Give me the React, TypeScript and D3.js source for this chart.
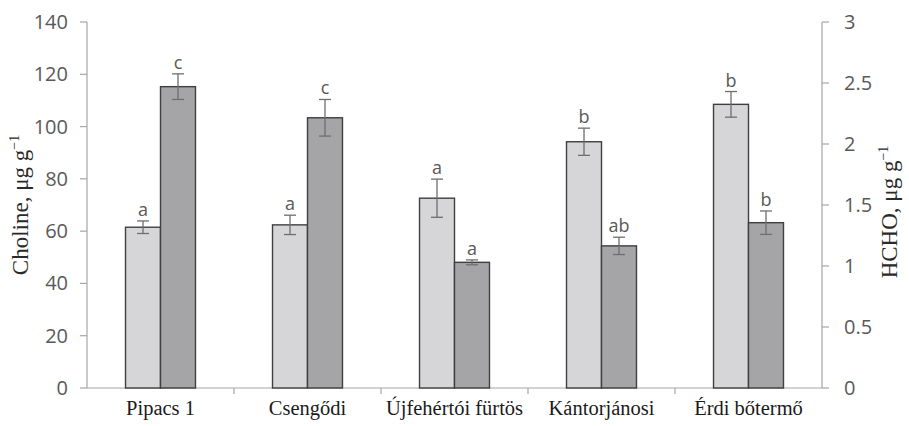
import React from "react";
import * as d3 from "d3";

const categories = ["Pipacs 1", "Csengődi", "Újfehértói fürtös", "Kántorjánosi", "Érdi bőtermő"];
const cholineValues = [61.5, 62.4, 72.6, 94.2, 108.5];
const cholineErrors = [2.4, 3.7, 7.3, 5.2, 4.9];
const cholineLetters = ["a", "a", "a", "b", "b"];
const hchoValues = [2.47, 2.215, 1.03, 1.165, 1.355];
const hchoErrors = [0.105, 0.15, 0.02, 0.071, 0.096];
const hchoLetters = ["c", "c", "a", "ab", "b"];
const leftTicks = [0, 20, 40, 60, 80, 100, 120, 140];
const rightTicks = [0, 0.5, 1, 1.5, 2, 2.5, 3];

const W = 909, H = 426;
const M = { left: 87, right: 822, top: 22, bottom: 388 };

export default function App() {
  const x = d3.scaleBand<string>().domain(categories).range([M.left, M.right]).paddingInner(0.524).paddingOuter(0.262);
  const step = x.step();
  const bw = x.bandwidth() / 2;
  const yL = d3.scaleLinear().domain([0, 140]).range([M.bottom, M.top]);
  const yR = d3.scaleLinear().domain([0, 3]).range([M.bottom, M.top]);
  const tickColor = "#a6a6a6";
  const labelColor = "#595959";
  const sans = "'Open Sans', 'Liberation Sans', sans-serif";
  const serif = "'Liberation Serif', 'DejaVu Serif', serif";

  const renderBar = (i: number, kind: "L" | "R") => {
    const c = categories[i];
    const x0 = x(c)! + (kind === "L" ? 0 : bw);
    const scale = kind === "L" ? yL : yR;
    const v = kind === "L" ? cholineValues[i] : hchoValues[i];
    const e = kind === "L" ? cholineErrors[i] : hchoErrors[i];
    const letter = kind === "L" ? cholineLetters[i] : hchoLetters[i];
    const cx = x0 + bw / 2;
    const top = scale(v);
    const eTop = scale(v + e);
    const eBot = scale(v - e);
    return (
      <g key={kind + i}>
        <rect x={x0} y={top} width={bw} height={M.bottom - top}
          fill={kind === "L" ? "#d6d6d8" : "#a5a5a7"} stroke="#3f3f3f" strokeWidth={1.4} />
        <line x1={cx} x2={cx} y1={eTop} y2={eBot} stroke="#6e6e6e" strokeWidth={1.3} />
        <line x1={cx - 6} x2={cx + 6} y1={eTop} y2={eTop} stroke="#6e6e6e" strokeWidth={1.3} />
        <line x1={cx - 6} x2={cx + 6} y1={eBot} y2={eBot} stroke="#6e6e6e" strokeWidth={1.3} />
        <text x={cx} y={eTop - 5} textAnchor="middle" fontFamily={sans} fontSize={18} fill={labelColor}>{letter}</text>
      </g>
    );
  };

  return (
    <svg width={W} height={H} style={{ position: "absolute", left: 0, top: 0, background: "#fff" }}>
      <rect width={W} height={H} fill="#fff" />
      {/* left axis */}
      <line x1={M.left} x2={M.left} y1={M.top} y2={M.bottom} stroke={tickColor} strokeWidth={1.2} />
      {leftTicks.map(t => (
        <g key={"l" + t}>
          <line x1={M.left - 7} x2={M.left} y1={yL(t)} y2={yL(t)} stroke={tickColor} strokeWidth={1.2} />
          <text x={M.left - 19} y={yL(t)} dy="0.35em" textAnchor="end" fontFamily={sans} fontSize={20} fill={labelColor}>{t}</text>
        </g>
      ))}
      {/* right axis */}
      <line x1={M.right} x2={M.right} y1={M.top} y2={M.bottom} stroke={tickColor} strokeWidth={1.2} />
      {rightTicks.map(t => (
        <g key={"r" + t}>
          <line x1={M.right} x2={M.right + 7} y1={yR(t)} y2={yR(t)} stroke={tickColor} strokeWidth={1.2} />
          <text x={M.right + 22} y={yR(t)} dy="0.35em" textAnchor="start" fontFamily={sans} fontSize={20} fill={labelColor}>{t}</text>
        </g>
      ))}
      {/* x axis */}
      <line x1={M.left} x2={M.right} y1={M.bottom} y2={M.bottom} stroke={tickColor} strokeWidth={1.2} />
      {categories.slice(1).map(c => (
        <line key={"xt" + c} x1={x(c)! - (step - x.bandwidth()) / 2} x2={x(c)! - (step - x.bandwidth()) / 2}
          y1={M.bottom} y2={M.bottom + 6} stroke={tickColor} strokeWidth={1.2} />
      ))}
      {categories.map(c => (
        <text key={"xl" + c} x={x(c)! + x.bandwidth() / 2} y={M.bottom + 27} textAnchor="middle"
          fontFamily={serif} fontSize={20.5} fill="#1a1a1a">{c}</text>
      ))}
      {categories.map((_, i) => renderBar(i, "L"))}
      {categories.map((_, i) => renderBar(i, "R"))}
      {/* titles */}
      <text transform={`translate(28,205) rotate(-90)`} textAnchor="middle" fontFamily={serif} fontSize={23} fill="#2a2a2a">
        Choline, μg g<tspan dy="-9" fontSize={14}>−1</tspan>
      </text>
      <text transform={`translate(897,212) rotate(-90)`} textAnchor="middle" fontFamily={serif} fontSize={23} fill="#2a2a2a">
        HCHO, μg g<tspan dy="-9" fontSize={14}>−1</tspan>
      </text>
    </svg>
  );
}
